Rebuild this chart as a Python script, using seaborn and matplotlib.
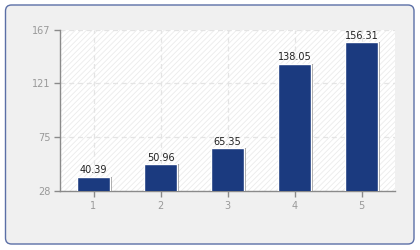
import matplotlib
matplotlib.use("Agg")
import matplotlib.pyplot as plt
import seaborn as sns
import pandas as pd
from matplotlib.patches import FancyBboxPatch, Rectangle
from matplotlib.transforms import IdentityTransform
import matplotlib.patheffects as pe

categories = ["1", "2", "3", "4", "5"]
values = [40.39, 50.96, 65.35, 138.05, 156.31]
yticks = [28, 75, 121, 167]

sns.set_theme(style="white")
plt.rcParams['font.family'] = ['DejaVu Sans']
plt.rcParams['hatch.linewidth'] = 0.6

fig = plt.figure(figsize=(4.2, 2.5), dpi=100)
fig.patch.set_facecolor("white")
panel = FancyBboxPatch((5.5, 6), 408.5, 239,
                       boxstyle="round,pad=0,rounding_size=6",
                       transform=IdentityTransform(), facecolor="#f0f0f0",
                       edgecolor="#5b6fa6", linewidth=1.0, zorder=-10)
fig.patches.append(panel)

ax = fig.add_axes([60/420, 1 - 191/250, 335/420, 161/250])
ax.set_zorder(5)
ax.set_facecolor("white")
ax.add_patch(Rectangle((0, 0), 1, 1, transform=ax.transAxes, facecolor="white",
                       edgecolor="#ebebeb", hatch="//////", linewidth=0, zorder=0))

df = pd.DataFrame({"cat": categories, "val": values})
sns.barplot(data=df, x="cat", y="val", color="#1b3a7f", width=0.5, ax=ax,
            saturation=1, zorder=3)
for p in ax.patches:
    if isinstance(p, Rectangle) and p.get_height() > 1:
        p.set_path_effects([pe.SimplePatchShadow(offset=(1, 0), shadow_rgbFace="#888888", alpha=0.8), pe.Normal()])

ax.set_ylim(28, 167)
ax.set_xlim(-0.5, 4.5)
ax.set_yticks(yticks)
ax.set_yticklabels([str(t) for t in yticks])
ax.set_xlabel("")
ax.set_ylabel("")

for i, v in enumerate(values):
    ax.text(i, v + 1, f"{v:.2f}", ha="center", va="bottom", fontsize=7, color="#222222", zorder=5)

ax.grid(True, color="#e4e4e4", linestyle=(0, (4, 3)), linewidth=0.9, zorder=1)
ax.set_axisbelow(True)
for s in ["top", "right"]:
    ax.spines[s].set_visible(False)
for s in ["left", "bottom"]:
    ax.spines[s].set_color("#8a8a8a")
    ax.spines[s].set_linewidth(1.0)
ax.tick_params(axis="both", which="both", direction="out", length=4, width=1,
               color="#8a8a8a", labelcolor="#999999", labelsize=7, pad=3,
               left=True, bottom=True)

fig.savefig("out.png", dpi=100)
